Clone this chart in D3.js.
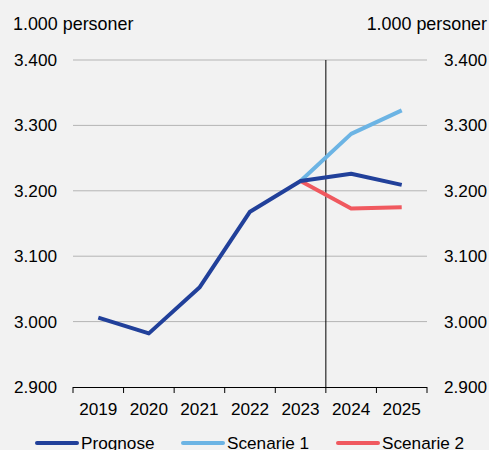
<!DOCTYPE html>
<html><head><meta charset="utf-8">
<script src="https://cdn.jsdelivr.net/npm/d3@7"></script>
<style>body{margin:0;background:#f2f2f2;}svg{display:block;font-family:"Liberation Sans",Arial,sans-serif;}</style>
</head><body><svg id="c" width="489" height="450"></svg>
<script>
const years = ["2019","2020","2021","2022","2023","2024","2025"];
const prognose = [3006, 2982, 3052, 3168, 3215, 3226, 3209];
const scenarie1 = [null, null, null, null, 3215, 3287, 3323];
const scenarie2 = [null, null, null, null, 3215, 3173, 3175];
const yTicks = [2900, 3000, 3100, 3200, 3300, 3400];
const unitLabel = "1.000 personer";
const seriesNames = ["Prognose", "Scenarie 1", "Scenarie 2"];
const colors = ["#21409a", "#6cb4e4", "#f0595f"];

const svg = d3.select("#c");
const L = 73, R = 427, T = 60, B = 387;
const x = d3.scaleBand().domain(years).range([L, R]);
const y = d3.scaleLinear().domain([2900, 3400]).range([B, T]);
const fmt = v => d3.format(",")(v).replace(/,/g, ".");
const FS = 17.2;

svg.append("rect").attr("width",489).attr("height",450).attr("fill","#f2f2f2");

// gridlines
svg.append("g").selectAll("line").data(yTicks.filter(v => v > 2900)).join("line")
  .attr("x1", L).attr("x2", R).attr("y1", d => y(d)).attr("y2", d => y(d))
  .attr("stroke", "#b4b4b4").attr("stroke-width", 1);

// y labels left & right
svg.append("g").selectAll("text").data(yTicks).join("text")
  .attr("x", 57).attr("y", d => y(d)).attr("dy", "0.35em").attr("text-anchor", "end")
  .attr("font-size", FS).attr("fill", "#000").text(fmt);
svg.append("g").selectAll("text").data(yTicks).join("text")
  .attr("x", 487).attr("y", d => y(d)).attr("dy", "0.35em").attr("text-anchor", "end")
  .attr("font-size", FS).attr("fill", "#000").text(fmt);

svg.append("text").attr("x", 13).attr("y", 30).attr("font-size", 17.9).text(unitLabel);
svg.append("text").attr("x", 487).attr("y", 30).attr("text-anchor","end").attr("font-size", 17.9).text(unitLabel);

// vertical divider between 2023 and 2024
svg.append("line").attr("x1", x("2024")).attr("x2", x("2024")).attr("y1", T).attr("y2", B)
  .attr("stroke", "#000").attr("stroke-width", 1);

// x axis
const xAxis = d3.axisBottom(x).tickSize(0).tickPadding(0);
const gx = svg.append("g").attr("transform", `translate(0,${B})`).call(xAxis);
gx.select(".domain").remove();
gx.selectAll("text").attr("font-size", FS).attr("fill", "#000")
  .attr("font-family", "Liberation Sans, Arial, sans-serif").attr("dy", null).attr("y", 28);
svg.append("line").attr("x1", L).attr("x2", R).attr("y1", B+0.5).attr("y2", B+0.5).attr("stroke", "#000");
const bounds = years.map(d => x(d)).concat([R]);
svg.append("g").selectAll("line").data(bounds).join("line")
  .attr("x1", d => d).attr("x2", d => d).attr("y1", B).attr("y2", B+6).attr("stroke", "#000");

// lines
const line = d3.line().defined(d => d[1] != null)
  .x(d => x(d[0]) + x.bandwidth()/2).y(d => y(d[1]));
const data = [scenarie1, scenarie2, prognose];
const cols = [colors[1], colors[2], colors[0]];
data.forEach((s, i) => {
  svg.append("path").datum(years.map((yr, j) => [yr, s[j]]))
    .attr("d", line).attr("fill", "none").attr("stroke", cols[i])
    .attr("stroke-width", 4).attr("stroke-linejoin", "round");
});

// legend
const legX = [37, 183, 338];
seriesNames.forEach((n, i) => {
  svg.append("line").attr("x1", legX[i]).attr("x2", legX[i] + 40).attr("y1", 443).attr("y2", 443)
    .attr("stroke", colors[i]).attr("stroke-width", 4).attr("stroke-linecap", "round");
  svg.append("text").attr("x", legX[i] + 44).attr("y", 449).attr("font-size", FS).text(n);
});
</script></body></html>
